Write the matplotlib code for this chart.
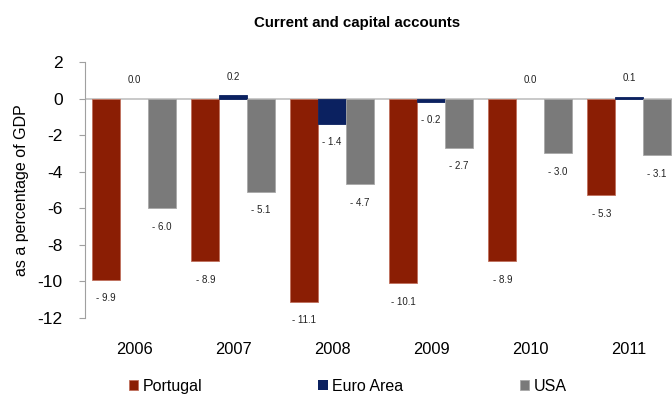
import numpy as np
import matplotlib.pyplot as plt

plt.rcParams['font.family'] = ['Liberation Sans', 'DejaVu Sans']
plt.rcParams['axes.unicode_minus'] = False

years = ['2006', '2007', '2008', '2009', '2010', '2011']
portugal = [-9.9, -8.9, -11.1, -10.1, -8.9, -5.3]
euro_area = [0.0, 0.2, -1.4, -0.2, 0.0, 0.1]
usa = [-6.0, -5.1, -4.7, -2.7, -3.0, -3.1]

series = [('Portugal', portugal, '#8b1e04', '#c0705c'),
          ('Euro Area', euro_area, '#0b2160', '#0b2160'),
          ('USA', usa, '#7a7a7a', '#a8a8a8')]


def fmt(v):
    # negatives written as "- 9.9"
    if v < 0:
        return '- {:.1f}'.format(abs(v))
    return '{:.1f}'.format(v)


fig = plt.figure(figsize=(6.72, 3.97), dpi=100)
ax = fig.add_axes([0.1265, 0.199, 0.8735, 0.645])

x = np.arange(len(years))
w = 0.28
for i, (name, vals, color, edge) in enumerate(series):
    pos = x + (i - 1) * w
    lw = [0.6 if v != 0 else 0 for v in vals]
    ax.bar(pos, vals, w, color=color, edgecolor=edge, linewidth=lw, label=name)
    for px, v in zip(pos, vals):
        off = 1.0 if v >= 0 else -1.0
        ax.text(px, v + off, fmt(v), ha='center', va='center',
                fontsize=7, color='#222222')

ax.axhline(0, color='#c0c0c0', linewidth=1.2, zorder=0)
ax.set_ylim(-12, 2)
ax.set_xlim(-0.495, 5.434)
ax.set_yticks(range(-12, 3, 2))
ax.set_xticks(x)
ax.set_xticklabels(years)
ax.tick_params(axis='y', labelsize=12.5, length=4, color='#a0a0a0', pad=12)
ax.tick_params(axis='x', labelsize=11.8, length=0, pad=17)
for side in ['top', 'right', 'bottom']:
    ax.spines[side].set_visible(False)
ax.spines['left'].set_color('#a0a0a0')
ax.set_ylabel('as a percentage of GDP', fontsize=11.5, labelpad=6)

fig.text(0.532, 0.942, 'Current and capital accounts', ha='center', va='center',
         fontsize=10.8, fontweight='bold')

fig.legend(loc='center left', bbox_to_anchor=(0.182, 0.027), ncol=3,
           frameon=False, fontsize=11.5, handlelength=0.6, handleheight=0.6,
           handletextpad=0.25, columnspacing=7.3, borderaxespad=0)

fig.savefig('out.png', dpi=100)
